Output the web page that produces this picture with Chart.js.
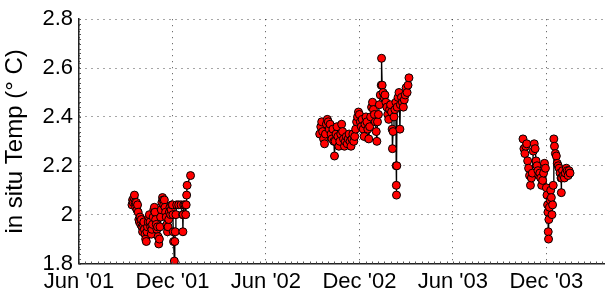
<!DOCTYPE html>
<html>
<head>
<meta charset="utf-8">
<script src="https://cdn.jsdelivr.net/npm/chart.js@4/dist/chart.umd.min.js"></script>
<style>
  html, body { margin: 0; padding: 0; background: #fff; }
  #wrap { width: 609px; height: 298px; position: relative; }
</style>
</head>
<body>
<div id="wrap"><canvas id="c" width="609" height="298"></canvas></div>
<script>
// x values: months since 1 Jun 2001
const tickMonths = [0, 6, 12, 18, 24, 30];
const tickLabels = ["Jun '01", "Dec '01", "Jun '02", "Dec '02", "Jun '03", "Dec '03"];
const yTicks = [1.8, 2.0, 2.2, 2.4, 2.6, 2.8];

const dep1Months = [3.40,3.44,3.48,3.52,3.56,3.60,3.64,3.68,3.72,3.76,3.80,3.84,3.88,3.92,3.96,4.00,4.04,4.08,4.12,4.16,4.20,4.24,4.28,4.32,4.36,4.40,4.44,4.48,4.52,4.56,4.60,4.64,4.68,4.72,4.76,4.80,4.84,4.88,4.92,4.96,5.00,5.04,5.08,5.12,5.16,5.20,5.24,5.28,5.32,5.36,5.40,5.44,5.48,5.52,5.56,5.60,5.64,5.68,5.72,5.76,5.80,5.84,5.88,5.92,5.96,6.00,6.03,6.05,6.07,6.12,6.15,6.18,6.22,6.27,6.40,6.55,6.65,6.67,6.69,6.72,6.80,6.85,6.88,6.91,6.94,7.16];
const dep1Temp   = [2.04,2.06,2.05,2.07,2.08,2.05,2.03,2.05,2.02,2.04,2.01,1.98,1.97,1.99,1.96,1.98,1.95,1.93,1.96,1.97,1.94,1.92,1.90,1.89,1.93,1.95,1.97,1.99,2.00,1.97,1.95,1.92,1.94,1.96,1.99,2.02,2.03,2.01,1.98,1.96,1.94,1.95,1.91,1.88,1.90,1.95,1.99,2.02,2.05,2.07,2.06,2.04,2.06,2.03,2.01,1.99,1.96,1.93,1.95,1.98,2.01,2.03,2.00,2.02,2.04,2.04,2.00,1.93,1.89,1.81,1.89,1.93,2.00,2.04,2.04,2.04,2.00,1.93,2.00,2.04,2.04,2.00,2.04,2.08,2.12,2.16];

const dep2Months = [15.45,15.52,15.58,15.64,15.70,15.76,15.82,15.88,15.94,16.00,16.06,16.12,16.18,16.24,16.30,16.36,16.40,16.44,16.50,16.56,16.62,16.68,16.74,16.80,16.86,16.92,16.98,17.04,17.10,17.16,17.22,17.28,17.34,17.40,17.46,17.52,17.58,17.64,17.70,17.76,17.82,17.88,17.94,18.00,18.06,18.12,18.18,18.24,18.30,18.36,18.42,18.48,18.54,18.60,18.66,18.72,18.78,18.84,18.90,18.96,19.02,19.08,19.12,19.16,19.22,19.28,19.34,19.40,19.42,19.46,19.52,19.58,19.64,19.70,19.76,19.82,19.88,19.94,20.00,20.06,20.10,20.12,20.16,20.22,20.28,20.34,20.36,20.37,20.38,20.40,20.42,20.48,20.54,20.60,20.63,20.70,20.76,20.82,20.88,20.94,21.00,21.06,21.12,21.18];
const dep2Temp   = [2.33,2.36,2.38,2.34,2.31,2.29,2.33,2.37,2.39,2.38,2.35,2.37,2.33,2.31,2.35,2.30,2.24,2.30,2.33,2.36,2.32,2.28,2.30,2.33,2.37,2.34,2.31,2.28,2.30,2.32,2.29,2.31,2.33,2.30,2.28,2.31,2.33,2.30,2.32,2.35,2.38,2.40,2.42,2.41,2.38,2.36,2.39,2.35,2.32,2.37,2.40,2.38,2.35,2.31,2.36,2.40,2.44,2.46,2.43,2.41,2.38,2.34,2.30,2.38,2.41,2.45,2.49,2.53,2.64,2.53,2.50,2.48,2.49,2.46,2.44,2.41,2.39,2.43,2.45,2.42,2.35,2.27,2.34,2.40,2.43,2.46,2.20,2.12,2.08,2.20,2.44,2.48,2.50,2.35,2.45,2.48,2.46,2.44,2.47,2.49,2.52,2.50,2.53,2.56];

const dep3Months = [28.50,28.56,28.62,28.68,28.74,28.80,28.86,28.92,28.98,29.04,29.10,29.16,29.22,29.28,29.34,29.40,29.46,29.52,29.58,29.64,29.70,29.76,29.82,29.88,29.94,30.00,30.04,30.08,30.10,30.12,30.14,30.16,30.20,30.24,30.28,30.32,30.36,30.40,30.44,30.48,30.52,30.58,30.64,30.70,30.76,30.82,30.88,30.94,30.96,30.98,31.04,31.10,31.16,31.22,31.28,31.34,31.40,31.46,31.52];
const dep3Temp   = [2.31,2.27,2.25,2.28,2.29,2.22,2.19,2.16,2.12,2.15,2.17,2.26,2.29,2.27,2.22,2.20,2.18,2.16,2.17,2.15,2.12,2.14,2.17,2.21,2.19,2.11,2.08,2.04,2.01,1.93,1.90,1.98,2.03,2.06,2.10,2.07,2.00,2.04,2.12,2.31,2.28,2.25,2.24,2.21,2.20,2.19,2.17,2.15,2.09,2.15,2.18,2.16,2.15,2.17,2.19,2.18,2.16,2.18,2.17];

function pts(xs, ys) { return xs.map((x, i) => ({ x: x, y: ys[i] })); }

const lineStyle = {
  borderColor: '#000',
  borderWidth: 1.3,
  pointRadius: 4,
  pointBorderWidth: 1,
  pointBorderColor: '#000',
  pointBackgroundColor: '#ff0000',
  pointHoverRadius: 4,
  showLine: true,
  tension: 0,
  fill: false
};

const minorTicks = {
  id: 'minorTicks',
  afterDraw(chart) {
    const ctx = chart.ctx, xs = chart.scales.x, ys = chart.scales.y, a = chart.chartArea;
    ctx.save();
    ctx.strokeStyle = '#555';
    ctx.lineWidth = 1;
    ctx.beginPath();
    for (let v = 1.8; v <= 2.8001; v += 0.02) {
      const y = Math.round(ys.getPixelForValue(v)) + 0.5;
      ctx.moveTo(a.left, y); ctx.lineTo(a.left + 2, y);
    }
    for (let m = 0; m <= 33.7; m += 0.4) {
      const x = Math.round(xs.getPixelForValue(m)) + 0.5;
      ctx.moveTo(x, a.bottom); ctx.lineTo(x, a.bottom - 2);
    }
    ctx.stroke();
    ctx.restore();
  }
};

new Chart(document.getElementById('c'), {
  type: 'scatter',
  data: {
    datasets: [
      Object.assign({ label: 'dep1', data: pts(dep1Months, dep1Temp) }, lineStyle),
      Object.assign({ label: 'dep2', data: pts(dep2Months, dep2Temp) }, lineStyle),
      Object.assign({ label: 'dep3', data: pts(dep3Months, dep3Temp) }, lineStyle)
    ]
  },
  options: {
    responsive: false,
    animation: false,
    devicePixelRatio: 1,
    layout: { padding: { top: 15, right: 0, left: 0, bottom: 0 } },
    plugins: { legend: { display: false }, tooltip: { enabled: false } },
    scales: {
      x: {
        type: 'linear',
        min: 0,
        max: 33.7,
        afterFit(s) { s.height = 34.5; },
        afterBuildTicks(s) { s.ticks = tickMonths.map(v => ({ value: v })); },
        ticks: {
          autoSkip: false,
          maxRotation: 0,
          padding: 5,
          color: '#000',
          font: { family: 'Liberation Sans, Arial, sans-serif', size: 22 },
          callback(v) { const i = tickMonths.indexOf(v); return i >= 0 ? tickLabels[i] : ''; }
        },
        grid: { color: 'rgba(0,0,0,0.7)', lineWidth: 1, drawTicks: false },
        border: { display: true, color: '#222', width: 1.5, dash: [1, 5] }
      },
      y: {
        min: 1.8,
        max: 2.8,
        afterFit(s) { s.width = 79; },
        afterBuildTicks(s) { s.ticks = yTicks.map(v => ({ value: v })); },
        ticks: {
          padding: 6,
          color: '#000',
          font: { family: 'Liberation Sans, Arial, sans-serif', size: 22 },
          callback(v) { return String(Number(v.toFixed(1))); }
        },
        title: {
          display: true,
          text: 'in situ Temp (° C)',
          color: '#000',
          padding: { top: 1, bottom: 0 },
          font: { family: 'Liberation Sans, Arial, sans-serif', size: 24 }
        },
        grid: { color: 'rgba(0,0,0,0.7)', lineWidth: 1, drawTicks: false },
        border: { display: true, color: '#222', width: 1.5, dash: [1, 5] }
      }
    }
  },
  plugins: [minorTicks]
});
</script>
</body>
</html>
